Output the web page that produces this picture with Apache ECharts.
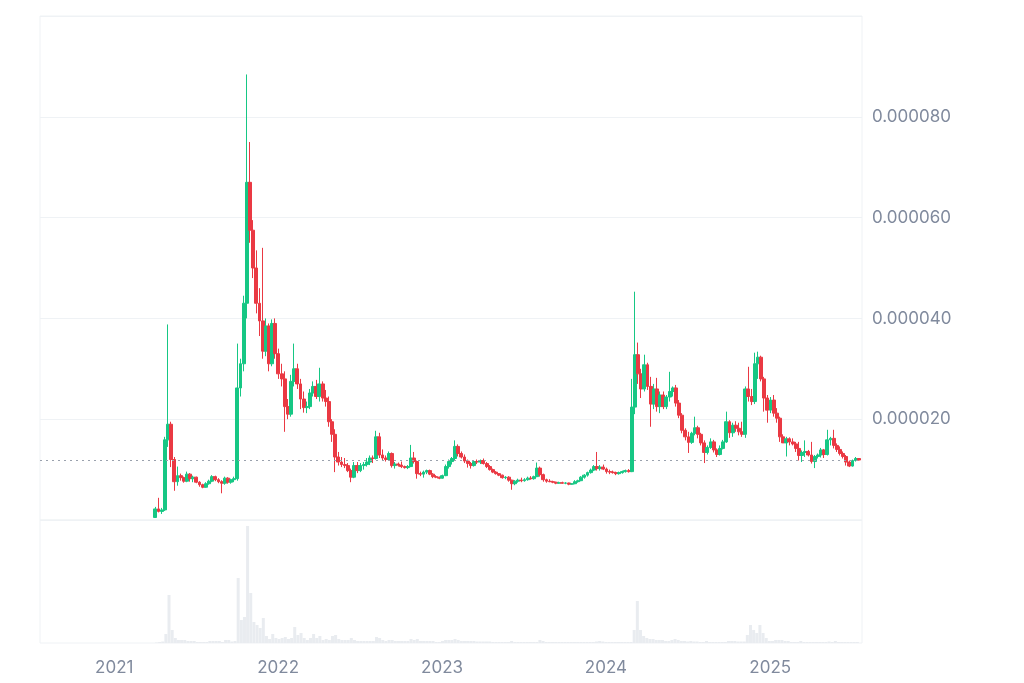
<!DOCTYPE html>
<html>
<head>
<meta charset="utf-8">
<script src="https://cdn.jsdelivr.net/npm/echarts@6/dist/echarts.min.js"></script>
<style>
html,body{margin:0;padding:0;background:#fff;}
#chart{width:1024px;height:683px;}
</style>
</head>
<body>
<div id="chart"></div>
<script>
// Weekly candles, prices in millionths of a dollar (1 = 0.000001)
const firstWeek = '2021-04-05';
const open = [0.5,2.2,1.7,2.0,15.9,19.0,12.0,7.6,8.8,8.4,7.7,9.1,8.2,8.5,7.5,7.0,6.5,7.2,7.7,8.6,8.0,7.6,7.3,8.3,7.5,8.0,
8.2,26.2,31.0,43.0,67.0,57.5,50.0,43.0,39.5,33.5,38.5,31.0,39.0,33.0,29.0,28.0,22.5,21.0,27.5,30.0,27.0,24.0,22.3,22.5,25.2,26.5,24.5,27.0,24.2,23.5,
19.5,17.0,12.5,11.5,11.0,10.8,9.8,8.5,10.8,9.8,10.8,11.0,11.5,12.3,12.2,16.5,12.9,12.3,12.0,13.2,10.8,11.1,10.9,10.6,10.4,10.6,12.3,11.6,9.2,9.1,9.5,9.8,9.1,8.6,8.5,
8.3,8.8,10.6,11.6,12.2,14.6,13.2,12.5,11.7,11.2,10.8,11.6,11.5,11.8,11.2,10.6,10.0,9.5,9.2,8.9,8.4,8.5,7.9,7.2,7.7,7.9,7.8,8.0,8.3,8.2,8.6,10.3,9.0,8.0,7.7,7.6,7.5,7.3,7.4,7.3,7.35,7.1,7.2,7.6,7.8,8.5,8.9,9.4,9.9,10.6,10.2,10.5,
10.1,9.6,9.5,9.4,9.2,9.4,9.6,9.8,9.6,22.4,32.8,29.0,26.0,30.8,26.5,23.0,26.0,22.5,24.8,22.5,24.4,25.5,26.2,23.2,20.8,17.8,16.5,15.4,17.2,18.3,17.0,15.3,13.4,14.4,15.5,13.9,13.0,14.2,15.5,19.5,17.3,18.8,18.2,17.5,17.0,26.0,24.5,23.5,31.0,32.3,28.0,24.2,21.8,
23.8,21.2,20.2,16.5,15.3,16.1,15.5,15.1,14.2,12.8,13.4,13.6,12.9,11.6,12.6,12.9,13.9,13.0,15.9,16.2,14.8,14.0,13.2,12.6,11.5,10.7,11.8,12.2];
const high = [2.6,4.4,2.4,16.5,38.8,19.5,12.5,10.6,9.2,8.6,9.6,9.3,8.8,8.6,7.7,7.2,7.5,8.0,8.9,8.8,8.3,7.9,8.6,8.5,8.2,8.6,
35.0,32.0,44.5,88.4,75.0,59.5,53.5,46.0,54.0,40.0,39.0,39.8,40.0,34.0,31.0,29.5,24.0,28.8,35.0,31.0,28.0,25.5,23.5,26.0,27.5,27.8,30.2,27.5,25.8,24.5,
20.0,18.0,13.5,12.5,12.3,11.3,10.2,11.5,11.5,11.3,11.5,12.3,12.8,12.8,17.7,17.3,14.0,12.8,13.6,13.4,11.5,11.4,11.6,10.8,10.9,14.9,13.5,11.8,9.6,9.8,10.0,10.0,9.3,8.9,8.6,
9.0,11.0,12.0,12.5,15.8,15.0,13.6,13.0,12.0,11.5,11.9,12.0,12.0,12.2,11.5,10.9,10.2,9.7,9.3,9.0,8.7,8.7,8.0,7.9,8.2,8.4,8.3,8.6,8.7,8.8,11.4,10.6,9.2,8.2,8.1,7.8,7.6,7.6,7.6,7.5,7.4,7.3,7.9,8.0,8.7,9.1,9.6,10.2,10.9,13.5,10.9,11.0,
10.4,10.0,9.8,9.6,9.6,9.8,10.0,10.1,28.0,45.3,35.2,30.0,32.8,31.2,28.4,27.0,28.2,25.5,25.5,24.8,29.4,26.5,26.8,23.8,21.2,18.2,17.5,17.5,20.5,18.7,17.3,15.8,14.8,16.2,15.9,14.2,14.8,15.9,21.5,19.8,19.3,19.6,19.3,19.5,26.5,30.4,26.0,33.2,33.4,32.6,28.4,24.8,24.4,
24.8,22.2,20.5,17.0,16.5,16.4,16.2,15.5,15.5,13.8,15.8,13.9,15.5,12.9,13.2,14.3,14.1,17.9,16.5,17.9,15.2,14.6,13.6,12.9,11.8,12.0,12.5,12.3];
const low = [0.4,1.5,1.2,1.8,14.5,10.5,5.8,6.8,7.8,7.4,7.5,7.6,7.5,7.3,6.6,6.3,6.4,7.0,7.5,7.7,7.3,5.3,7.0,7.2,7.2,7.5,
7.8,24.5,29.5,40.0,55.0,48.0,41.0,36.5,32.0,32.5,29.5,30.5,32.0,28.0,26.5,17.5,20.0,20.5,26.5,26.0,22.0,21.3,21.2,22.0,24.5,24.0,23.5,23.5,22.5,18.5,
15.5,9.5,10.8,10.5,10.3,9.5,7.5,8.3,9.3,9.5,10.0,10.6,10.9,11.3,12.0,12.3,11.8,11.6,11.8,10.4,10.2,10.6,10.3,10.2,10.1,10.5,11.2,8.2,8.7,8.4,9.1,8.9,8.3,8.3,8.1,
8.2,8.7,10.2,11.0,11.8,12.6,12.2,11.3,10.4,10.2,10.6,11.1,11.1,11.0,10.3,9.8,9.3,9.0,8.7,8.2,8.1,7.6,6.0,6.9,7.4,7.5,7.6,7.8,8.0,8.0,8.5,8.6,7.6,7.4,7.5,7.3,7.1,7.2,7.2,7.1,6.9,7.0,7.1,7.4,7.7,8.2,8.6,9.2,9.7,9.8,9.8,9.9,
9.2,9.1,9.2,8.9,9.0,9.2,9.4,9.4,9.5,21.0,27.0,24.2,25.5,25.8,18.5,22.0,21.5,21.2,22.0,22.0,23.5,24.5,22.5,20.2,17.2,15.8,13.3,15.1,16.8,16.2,14.8,11.3,13.0,14.1,13.4,12.5,12.8,14.0,15.3,16.3,16.5,17.5,16.8,16.5,16.3,23.5,22.8,23.0,28.0,27.5,21.5,19.3,21.2,
20.5,19.3,15.5,15.3,12.6,14.8,14.8,13.5,11.8,11.5,12.5,12.6,11.2,10.3,12.2,12.4,12.3,12.8,14.8,14.2,13.5,12.8,12.2,10.8,10.5,10.6,11.6,11.8];
const close = [2.2,1.7,2.0,15.9,19.0,12.0,7.6,8.8,8.4,7.7,9.1,8.2,8.5,7.5,7.0,6.5,7.2,7.7,8.6,8.0,7.6,7.3,8.3,7.5,8.0,8.2,
26.2,31.0,43.0,67.0,57.5,50.0,43.0,39.5,33.5,38.5,31.0,39.0,33.0,29.0,28.0,22.5,21.0,27.5,30.0,27.0,24.0,22.3,22.5,25.2,26.5,24.5,27.0,24.2,23.5,19.5,
17.0,12.5,11.5,11.0,10.8,9.8,8.5,10.8,9.8,10.8,11.0,11.5,12.3,12.2,16.5,12.9,12.3,12.0,13.2,10.8,11.1,10.9,10.6,10.4,10.6,12.3,11.6,9.2,9.1,9.5,9.8,9.1,8.6,8.5,8.3,
8.8,10.6,11.6,12.2,14.6,13.2,12.5,11.7,11.2,10.8,11.6,11.5,11.8,11.2,10.6,10.0,9.5,9.2,8.9,8.4,8.5,7.9,7.2,7.7,7.9,7.8,8.0,8.3,8.2,8.6,10.3,9.0,8.0,7.7,7.6,7.5,7.3,7.4,7.3,7.35,7.1,7.2,7.6,7.8,8.5,8.9,9.4,9.9,10.6,10.2,10.5,10.1,
9.6,9.5,9.4,9.2,9.4,9.6,9.8,9.6,22.4,32.8,29.0,26.0,30.8,26.5,23.0,26.0,22.5,24.8,22.5,24.4,25.5,26.2,23.2,20.8,17.8,16.5,15.4,17.2,18.3,17.0,15.3,13.4,14.4,15.5,13.9,13.0,14.2,15.5,19.5,17.3,18.8,18.2,17.5,17.0,26.0,24.5,23.5,31.0,32.3,28.0,24.2,21.8,23.8,
21.2,20.2,16.5,15.3,16.1,15.5,15.1,14.2,12.8,13.4,13.6,12.9,11.6,12.6,12.9,13.9,13.0,15.9,16.2,14.8,14.0,13.2,12.6,11.5,10.7,11.8,12.2,11.9];
const volume = [0.5,1,1.5,9,48,13,5,3,3,3,2,2,2,1,1,1,1,2,2,2,2,1,3,3,1.5,2,
65,23,26,117,50,21,18,15,25,7,4,9,5,4,5,6,4,5,16,8,10,5,3,5,9,5,7,3,4,3,
7,8,4,3,3,3,5,3,2,2,2,2,2,2,6,5,3,2,3,3,2,2,2,2,2,4,3,4,2,2,2,2,2,1,1,
2,3,3,3,4,3,2,2,2,2,2,1.5,1.5,1.5,1.5,1.5,1,1,1,1,1,1,2,1,1,1,1,1,1,1,1,3,2,1,1,1,1,1,1,1,1,1,1,1,1,1,1,1,1,1.5,2,1.5,1,
1,1,1,1,1,1,1,1,13,42,13,7,5,4,4,3,3,3,2,2,3,4,3,2,2,1.5,2,1.5,1.5,1,1,2,1,1,1,1,1,1,2,2,2,1.5,1.5,1.5,8,18,13,10,18,10,5,2,2,
3,3,3,2,2,1,1,1,2,1,1,1,1,1,1,1,1,1.5,1,2,1,1,1,1,1,1,1,1];
const priceTicks = [20, 40, 60, 80];

const DAY = 86400000;
const t0 = Date.parse(firstWeek + 'T00:00:00Z');
const weeks = close.map((_, i) => t0 + i * 7 * DAY);

const UP = '#16c784', DOWN = '#ea3943', GRID = '#eff2f5', TXT = '#808a9d';
const xMin = Date.UTC(2020, 6, 23), xMax = Date.UTC(2025, 6, 21);

const chart = echarts.init(document.getElementById('chart'), null, {renderer: 'canvas'});
chart.setOption({
  animation: false,
  backgroundColor: '#fff',
  grid: [
    {left: 40, right: 162, top: 16, height: 504, show: true, borderColor: GRID, borderWidth: 1},
    {left: 40, right: 162, top: 520, height: 123, show: true, borderColor: GRID, borderWidth: 1}
  ],
  xAxis: [
    {type: 'time', gridIndex: 0, min: xMin, max: xMax,
     axisLine: {show: false}, axisTick: {show: false}, axisLabel: {show: false}, splitLine: {show: false}},
    {type: 'time', gridIndex: 1, min: xMin, max: xMax, minInterval: 365 * DAY,
     axisLine: {show: false}, axisTick: {show: false}, splitLine: {show: false},
     axisLabel: {color: TXT, fontSize: 17, fontFamily: 'Inter, sans-serif', margin: 16,
       showMinLabel: false, showMaxLabel: false,
       formatter: function (v) { const d = new Date(v); return (d.getMonth() === 0 && d.getDate() === 1) ? String(d.getFullYear()) : ''; }}}
  ],
  yAxis: [
    {type: 'value', gridIndex: 0, position: 'right', min: 0, max: 100, interval: 20,
     axisLine: {show: false}, axisTick: {show: false},
     splitLine: {lineStyle: {color: GRID, width: 1}},
     axisLabel: {color: TXT, fontSize: 17, fontFamily: 'Inter, sans-serif', margin: 10,
       formatter: function (v) { return priceTicks.indexOf(v) >= 0 ? (v / 1e6).toFixed(6) : ''; }}},
    {type: 'value', gridIndex: 1, min: 0, max: 123, show: false}
  ],
  series: [
    {type: 'candlestick', xAxisIndex: 0, yAxisIndex: 0, barWidth: 3.4,
     encode: {x: 0, y: [1, 2, 3, 4]},
     data: weeks.map((t, i) => [t, open[i], close[i], low[i], high[i]]),
     itemStyle: {color: UP, color0: DOWN, borderColor: UP, borderColor0: DOWN, borderWidth: 1},
     markLine: {silent: true, symbol: 'none', label: {show: false},
       lineStyle: {color: '#9aa1ad', type: [2, 4], width: 1},
       data: [{yAxis: close[close.length - 1]}]}},
    {type: 'bar', xAxisIndex: 1, yAxisIndex: 1, barWidth: 3,
     data: weeks.map((t, i) => [t, volume[i]]),
     itemStyle: {color: '#e9ecf0'}}
  ]
});
</script>
</body>
</html>
